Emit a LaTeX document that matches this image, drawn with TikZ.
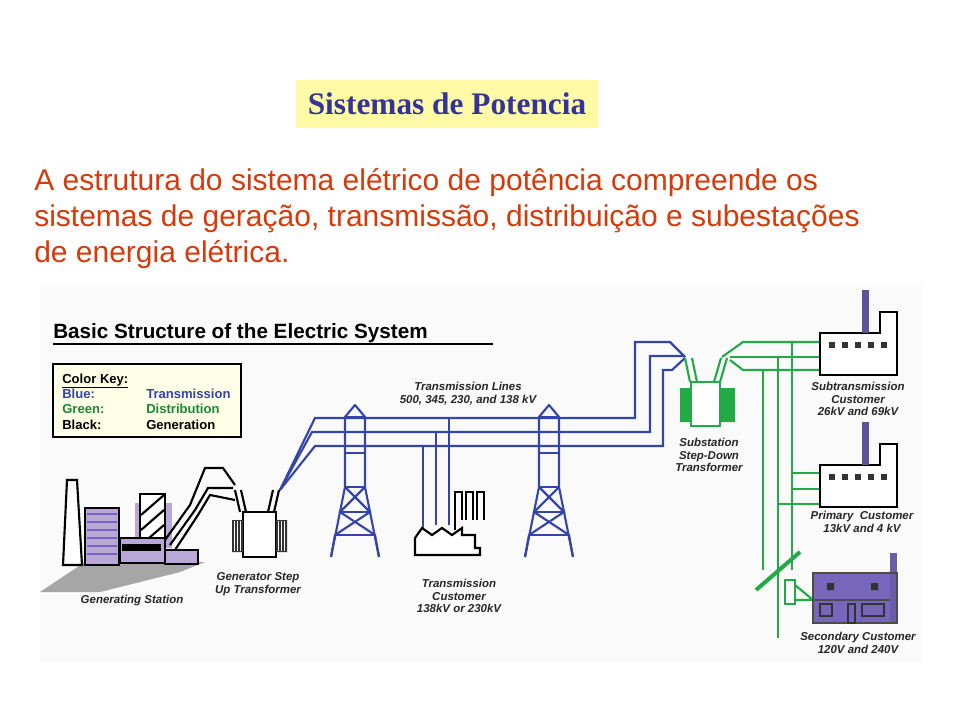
\documentclass[tikz,border=0pt]{standalone}
\usepackage{fontspec}
\setmainfont{Liberation Serif}
\setsansfont{Liberation Sans}
\definecolor{tb}{HTML}{3344AA}
\definecolor{dg}{HTML}{22AA44}
\definecolor{pu}{HTML}{7766BB}
\definecolor{lp}{HTML}{B8A8D8}
\definecolor{tr}{HTML}{D63A0A}
\definecolor{ttl}{HTML}{333399}
\tikzset{
 lbl/.style={font=\sffamily\bfseries\itshape\fontsize{8.6}{9.6}\selectfont, align=center, text=black!85},
 bl/.style={draw=tb, line width=1.6pt},
 gl/.style={draw=dg, line width=1.6pt},
 kl/.style={draw=black, line width=1.6pt},
 tower/.pic={
  \draw[bl,line join=round] (-24,0)--(-10,-70)--(-10,-140)--(0,-152)--(10,-140)--(10,-70)--(24,0);
  \draw[bl] (-10,-140)--(10,-140) (-10,-104)--(10,-104) (-10,-70)--(10,-70);
  \draw[bl] (-10,-70)--(15,-45)--(-20,-22)--(-24,0) (10,-70)--(-15,-45)--(20,-22)--(24,0);
  \draw[bl] (-15,-45)--(15,-45) (-20,-22)--(20,-22) (-10,-70)--(10,-70);
 },
 fact/.pic={
  \draw[kl,fill=white] (0,42)--(0,0)--(60,0)--(60,-21)--(77,-21)--(77,42)--cycle;
  \fill[pu!80!black] (42,0) rectangle (49,-43);
  \foreach \i in {0,...,4} \fill[black!80] (9+\i*13,9) rectangle (15+\i*13,15);
 }
}
\begin{document}
\begin{tikzpicture}[x=0.75pt,y=-0.75pt]
\useasboundingbox (0,0) rectangle (960,720);
\fill[white] (0,0) rectangle (960,720);
% title
\node[fill=yellow!35!white, minimum width=302*0.75pt, minimum height=48*0.75pt, inner sep=0pt, text=ttl, font=\bfseries\fontsize{23.5}{25}\selectfont] (title) at (447,104) {Sistemas de Potencia};
\node[anchor=north west, align=left, text=tr, font=\sffamily\fontsize{22.5}{27}\selectfont, inner sep=0pt] (para) at (34,168)
 {A estrutura do sistema el\'etrico de pot\^encia compreende os\\sistemas de gera\c{c}\~ao, transmiss\~ao, distribui\c{c}\~ao e subesta\c{c}\~oes\\de energia el\'etrica.};
% image backdrop
\fill[black!2] (40,285) rectangle (922,662);
\node[anchor=base west, inner sep=0pt, font=\sffamily\bfseries\fontsize{15.5}{17}\selectfont] (hd) at (53,339) {Basic Structure of the Electric System};
\draw[line width=1.2pt] (53,344)--(493,344);
% color key
\draw[fill=yellow!10!white, line width=0.8pt] (53,364) rectangle (241,437);
\begin{scope}[font=\sffamily\bfseries\fontsize{9.8}{10}\selectfont]
\node[anchor=base west,inner sep=0] (ck) at (62,383) {\underline{Color Key:}};
\node[anchor=base west,inner sep=0,text=tb] (k1) at (62,398) {Blue:};
\node[anchor=base west,inner sep=0,text=dg!80!black] (k2) at (62,413) {Green:};
\node[anchor=base west,inner sep=0] (k3) at (62,429) {Black:};
\node[anchor=base west,inner sep=0,text=tb] (v1) at (146,398) {Transmission};
\node[anchor=base west,inner sep=0,text=dg!80!black] (v2) at (146,413) {Distribution};
\node[anchor=base west,inner sep=0] (v3) at (146,429) {Generation};
\end{scope}
% generating station
\fill[black!35] (40,592)--(85,562)--(205,562)--(180,572)--(100,592)--cycle;
\draw[kl,fill=white] (63,565)--(67,480)--(77,480)--(82,565)--cycle;
\draw[kl,fill=lp] (85,508) rectangle (119,565);
\foreach \y in {514,522,...,560} \draw[pu,line width=1pt] (87,\y)--(117,\y);
\fill[lp] (135,503) rectangle (172,548);
\draw[kl,fill=white] (140,494) rectangle (165,547);
\foreach \y in {505,520,535} \draw[kl] (141,\y+10)--(164,\y-10);
\draw[kl,fill=lp] (120,538) rectangle (165,563);
\draw[kl,fill=black] (123,545) rectangle (160,550);
\draw[kl,fill=lp] (165,550) rectangle (198,564);
\node[lbl] (gs) at (132,601) {Generating Station};
% gen step-up transformer
\draw[kl] (165,540)--(190,505)--(205,468)--(223,468)--(235,485);
\draw[kl] (170,545)--(195,510)--(208,488)--(233,488);
\draw[kl] (175,550)--(198,515)--(210,495)--(235,500);
\draw[kl,fill=white] (243,512) rectangle (276,557);
\fill[black!80] (232,520) rectangle (243,552) (276,520) rectangle (287,552);
\foreach \x in {234,237,240,278,281,284} \draw[white,line width=0.5pt] (\x,521)--(\x,551);
\draw[kl] (240,512)--(235,490) (246,512)--(241,490) (268,512)--(273,490) (274,512)--(279,490);
\node[lbl] (gsu) at (258,584) {Generator Step\\Up Transformer};
% transmission lines
\draw[bl] (280,490)--(315,418)--(635,418)--(635,342)--(670,342)--(685,357);
\draw[bl] (280,490)--(312,432)--(650,432)--(650,356)--(685,356);
\draw[bl] (280,490)--(315,446)--(663,446)--(663,370)--(672,370)--(685,358);
\node[lbl] (tl) at (468,394) {Transmission Lines\\500, 345, 230, and 138 kV};
\pic at (355,557) {tower};
\pic at (549,557) {tower};
% transmission customer
\draw[bl] (423,446)--(423,530) (436,432)--(436,525) (449,418)--(449,525);
\draw[kl,fill=white] (415,555)--(415,538)--(422,528)--(432,535)--(442,528)--(452,535)--(462,528)--(462,535)--(475,535)--(475,548)--(480,548)--(480,555)--cycle;
\draw[kl] (455,530)--(455,492)--(462,492)--(462,520) (466,520)--(466,492)--(473,492)--(473,520) (477,520)--(477,492)--(484,492)--(484,520);
\node[lbl] (tc) at (459,596) {Transmission\\Customer\\138kV or 230kV};
% substation
\draw[gl,fill=white] (691,382) rectangle (720,426);
\fill[dg] (680,388) rectangle (691,422) (720,388) rectangle (735,422);
\draw[gl] (690,382)--(685,358) (697,382)--(692,358) (714,382)--(721,358) (720,382)--(727,358);
\node[lbl] (sub) at (709,455) {Substation\\Step-Down\\Transformer};
% distribution
\draw[gl] (722,357)--(743,342)--(820,342);
\draw[gl] (730,357)--(820,357);
\draw[gl] (730,360)--(743,370)--(820,370);
\draw[gl] (763,370)--(763,570) (778,357)--(778,638) (792,342)--(792,570);
\draw[gl] (792,473)--(820,473) (792,489)--(820,489) (778,504)--(820,504);
\draw[gl,line width=3pt] (756,590)--(800,552);
\draw[gl] (785,580) rectangle (795,604);
\draw[gl] (795,585)--(813,600) (795,600)--(813,600);
\pic at (820,333) {fact};
\pic at (820,465) {fact};
\node[lbl] (c1) at (858,399) {Subtransmission\\Customer\\26kV and 69kV};
\node[lbl] (c2) at (862,522) {Primary\ \ Customer\\13kV and 4 kV};
% house
\fill[pu] (813,573) rectangle (890,623);
\fill[pu!90!black] (890,553) rectangle (897,623);
\draw[black!70,line width=1pt] (813,600)--(890,600) (813,573) rectangle (897,623);
\draw[black!80,line width=1pt] (820,604) rectangle (832,616) (862,604) rectangle (884,616) (848,604) rectangle (855,623);
\fill[black!80] (827,583) rectangle (834,590) (871,583) rectangle (878,590);
\node[lbl] (c3) at (858,643) {Secondary Customer\\120V and 240V};
\end{tikzpicture}
\end{document}
